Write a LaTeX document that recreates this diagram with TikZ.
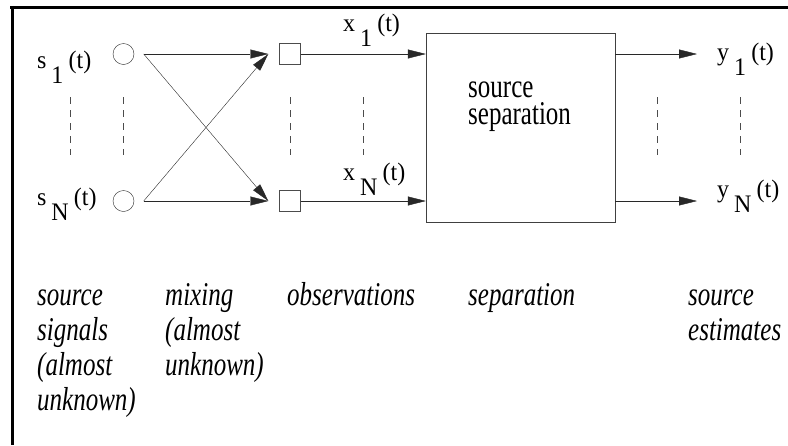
\documentclass[tikz,border=0pt]{standalone}
\usepackage{fontspec}
\setmainfont{Liberation Serif}
\usetikzlibrary{arrows.meta,positioning,calc}
\definecolor{linecolor}{RGB}{40,40,40}
\newcommand{\sigl}[2]{#1\hspace{0.2em}\raisebox{-0.6em}{#2}\hspace{0.22em}(t)}

\begin{document}
\begin{tikzpicture}[x=1pt,y=-1pt,
    sig/.style={anchor=base west, inner sep=0pt, yscale=1.05, font=\fontsize{24}{26}\selectfont},
    srcnode/.style={draw=linecolor, circle, minimum size=21pt, inner sep=0pt},
    obsnode/.style={draw=black!70, rectangle, minimum size=21pt, inner sep=0pt},
    flow/.style={draw=linecolor, -{Triangle[length=18pt,width=9pt]}},
    caption/.style={anchor=base west, inner sep=0pt, align=left, yscale=1.33,
      font=\itshape\fontsize{25}{26.3}\selectfont},
    dots/.style={dash pattern=on 7pt off 6pt, draw=black!70}]
  \useasboundingbox (0,0) rectangle (788,445);
  % frame
  \draw[line width=3.5pt] (10,7.5) -- (788,7.5);
  \draw[line width=3.5pt] (12.5,5.75) -- (12.5,445);

  % sources and observations
  \node[srcnode] (c1) at (123.5,54) {};
  \node[srcnode] (cN) at (123.5,201) {};
  \node[obsnode] (o1) at (290,54) {};
  \node[obsnode] (oN) at (290,201) {};
  \node[draw=black!75, minimum width=189pt, minimum height=189pt, inner sep=0pt] (sep) at (520.5,127.5) {};
  % base anchor sits on the last line
  \node[anchor=base west, inner sep=0pt, align=left, yscale=1.33,
    font=\fontsize{25}{20}\selectfont] (septext) at (468,124) {source\\separation};

  % labels
  \node[sig] (s1) at (37,68) {\sigl{s}{1}};
  \node[sig] (sN) at (37,205) {\sigl{s}{N}};
  \node[sig] (x1) at (343,31) {\sigl{x}{1}};
  \node[sig] (xN) at (343,180) {\sigl{x}{N}};
  \node[sig] (y1) at (717,60) {\sigl{y}{1}};
  \node[sig] (yN) at (717,197) {\sigl{y}{N}};

  % mixing
  \coordinate (a1) at ($(c1.east)+(9.5,0)$);
  \coordinate (aN) at ($(cN.east)+(9.5,0)$);
  \coordinate (b1) at ($(o1.west)-(11,0)$);
  \coordinate (bN) at ($(oN.west)-(11,0)$);
  \draw[flow] (a1) -- (b1);
  \draw[flow] (a1) -- (bN);
  \draw[flow] (aN) -- (b1);
  \draw[flow] (aN) -- (bN);

  % observations and estimates
  \draw[flow] (o1.east) -- (o1.east -| sep.west);
  \draw[flow] (oN.east) -- (oN.east -| sep.west);
  \coordinate (e1) at (697,54);
  \coordinate (eN) at (697,201);
  \draw[flow] (sep.east |- o1) -- (e1);
  \draw[flow] (sep.east |- oN) -- (eN);

  % dots between first and last channel
  \foreach \x in {70,123.5,290,363,657,740}
    \draw[dots] (\x,97) -- (\x,155);

  % captions (placed at the baseline of their last line)
  \node[caption] (capsrc) at (37,410) {source\\signals\\(almost\\unknown)};
  \node[caption] (capmix) at (165,375) {mixing\\(almost\\unknown)};
  \node[caption] (capobs) at (287,305) {observations};
  \node[caption] (capsep) at (468,305) {separation};
  \node[caption] (capest) at (688,340) {source\\estimates};
\end{tikzpicture}
\end{document}
